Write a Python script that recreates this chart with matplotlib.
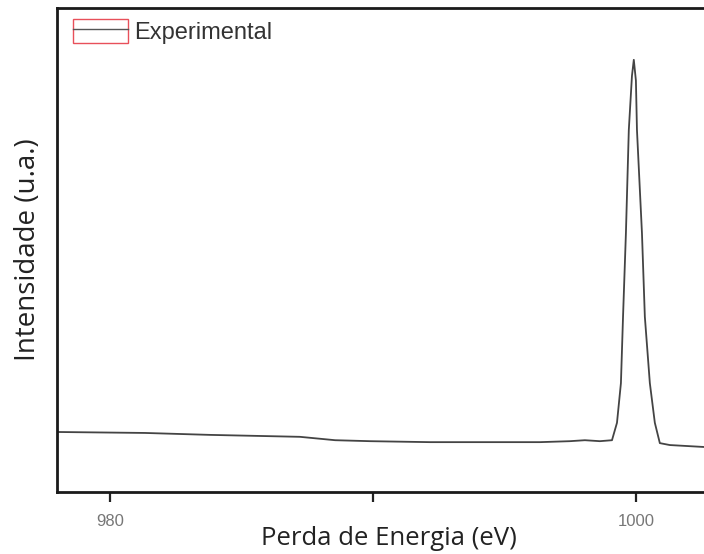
import matplotlib
matplotlib.use("Agg")
import matplotlib.pyplot as plt
from matplotlib.patches import Rectangle
from matplotlib.lines import Line2D

# Energy-loss spectrum (eV) and intensity (arbitrary units)
energy = [977.98, 981.33, 983.80, 987.22, 988.56, 989.89, 992.17, 996.35,
          997.49, 998.06, 998.63, 999.09, 999.28, 999.43, 999.51, 999.62,
          999.73, 999.85, 999.92, 1000.00, 1000.04, 1000.23, 1000.34,
          1000.53, 1000.72, 1000.91, 1001.29, 1002.59]
intensity = [12.4, 12.2, 11.8, 11.4, 10.7, 10.5, 10.3, 10.3,
             10.5, 10.7, 10.5, 10.7, 14.3, 22.5, 36.2, 53.5,
             74.8, 86.0, 89.3, 85.0, 74.8, 53.5, 36.2,
             22.5, 14.3, 10.1, 9.7, 9.3]

x_ticks = [980, 990, 1000]
x_tick_labels = ["980", "", "1000"]
series_label = "Experimental"

W, H = 704, 554
fig = plt.figure(figsize=(W / 100, H / 100), dpi=100)
ax = fig.add_axes([57 / W, (H - 492) / H, (W - 57) / W, (492 - 8) / H])

line, = ax.plot(energy, intensity, color="#444444", lw=1.3)

ax.set_xlim(977.98, 1002.59)
ax.set_ylim(0, 100)
ax.set_xticks(x_ticks)
ax.set_xticklabels(x_tick_labels, fontsize=12, color="#777777",
                   family="Liberation Sans")
ax.set_yticks([])
ax.tick_params(axis="x", direction="out", length=7, width=1.6, pad=9,
               color="#222222")
for side in ("left", "bottom", "top"):
    ax.spines[side].set_linewidth(2.0)
    ax.spines[side].set_color("#1a1a1a")
ax.spines["right"].set_visible(False)

ax.set_xlabel("Perda de Energia (eV)", fontsize=18.5, family="Open Sans",
              color="#222222")
ax.xaxis.set_label_coords((389 - 57) / (W - 57), (492 - 526) / (492 - 8))
ax.set_ylabel("Intensidade (u.a.)", fontsize=20, family="Open Sans",
              color="#222222", labelpad=11)

box = Rectangle((0, 0), 1, 1, facecolor="none", edgecolor="#e8505a", lw=1.0)
handle_line = Line2D([], [], color="#555555", lw=1.0)
ax.legend(handles=[(box, handle_line)], labels=[series_label],
          loc="upper left", bbox_to_anchor=(73 / W, (H - 19) / H),
          bbox_transform=fig.transFigure, frameon=False,
          handlelength=2.35, handleheight=1.2, handletextpad=0.26,
          borderpad=0.0, borderaxespad=0.0,
          prop={"family": "Liberation Sans", "size": 17})
ax.get_legend().get_texts()[0].set_color("#333333")

fig.savefig("out.png", dpi=100)
